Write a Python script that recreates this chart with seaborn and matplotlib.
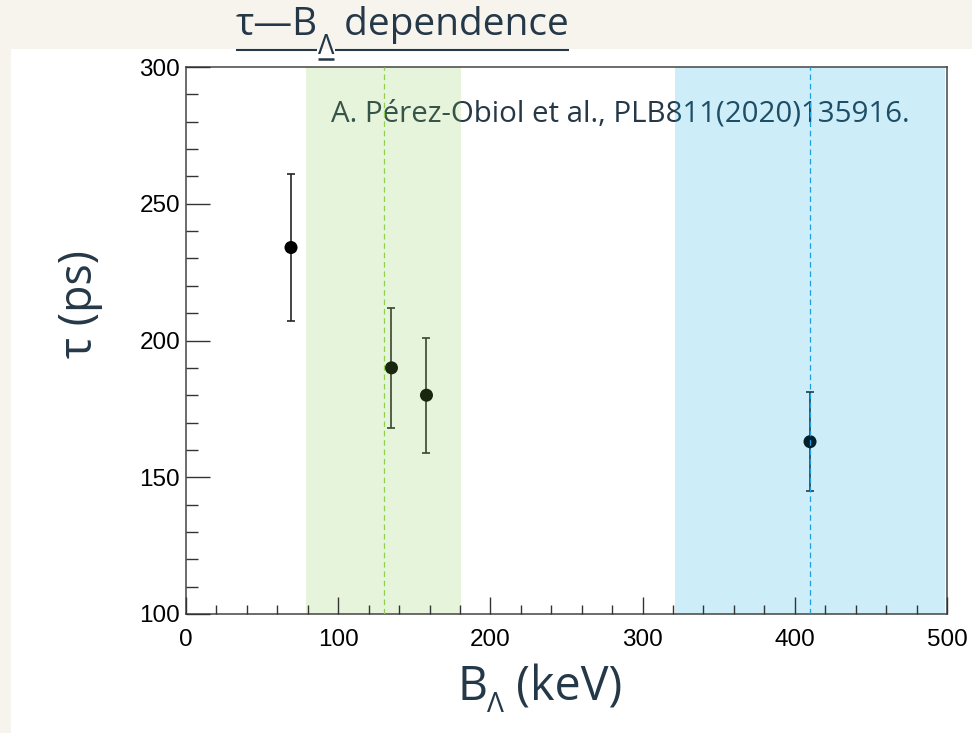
import matplotlib
matplotlib.use("Agg")
import matplotlib.pyplot as plt
from matplotlib.patches import Rectangle
from matplotlib.lines import Line2D
from matplotlib.ticker import MultipleLocator
import seaborn as sns
import pandas as pd

# Measured hypertriton-like lifetimes versus Lambda separation energy
b_lambda = [69, 135, 158, 410]          # keV
tau = [234, 190, 180, 163]              # ps
tau_err = [27, 22, 21, 18]              # ps

# Theory bands: centre and half-width (keV)
band_centres = [130, 410]
band_halfwidths = [51, 89]

x_ticks = [0, 100, 200, 300, 400, 500]
y_ticks = [100, 150, 200, 250, 300]

title_runs = ["τ—B", "Λ", " dependence"]
xlabel_runs = ["B", "Λ", " (keV)"]
ylabel_text = "τ (ps)"
reference_text = "A. Pérez-Obiol et al., PLB811(2020)135916."

df = pd.DataFrame({"B": b_lambda, "tau": tau, "err": tau_err})

sns.set_theme(style="ticks")
SANS = ["Open Sans", "DejaVu Sans"]
TICKFONT = ["Liberation Sans", "DejaVu Sans"]
plt.rcParams["font.family"] = SANS

W, H = 972, 733
NAVY = "#253848"
fig = plt.figure(figsize=(W / 100, H / 100), dpi=100)
fig.patch.set_facecolor("#f7f4ee")
fig.patches.append(Rectangle((11 / W, 0), 1 - 11 / W, 1 - 49 / H,
                             transform=fig.transFigure, facecolor="white",
                             edgecolor="none", zorder=-5))

ax = fig.add_axes([186 / W, 1 - 614 / H, (947 - 186) / W, (614 - 67) / H])
ax.set_facecolor("white")
ax.set_axisbelow(False)

# data points with error bars
ax.errorbar(df["B"], df["tau"], yerr=df["err"], fmt="none", ecolor="#262626",
            elinewidth=1.2, capsize=2.6, capthick=1.2, zorder=2)
sns.scatterplot(data=df, x="B", y="tau", ax=ax, color="black", s=88,
                edgecolor="none", linewidth=0, zorder=2.05, legend=False)

# theory bands drawn translucent over the points
band_colors = ["#82c850", "#05aae1"]
line_colors = ["#8fd14f", "#1ea0e0"]
for c, hw, bc, lc in zip(band_centres, band_halfwidths, band_colors, line_colors):
    ax.axvspan(c - hw, c + hw, color=bc, alpha=0.2, lw=0, zorder=2.3)
    ax.axvline(c, color=lc, lw=0.9, ls=(0, (4.5, 3)), zorder=2.6)

ax.set_xlim(x_ticks[0], x_ticks[-1])
ax.set_ylim(y_ticks[0], y_ticks[-1])
ax.set_xticks(x_ticks)
ax.set_yticks(y_ticks)
ax.xaxis.set_minor_locator(MultipleLocator(20))
ax.yaxis.set_minor_locator(MultipleLocator(10))
ax.set_xlabel("")
ax.set_ylabel("")
ax.tick_params(axis="both", which="both", direction="in", color="#333333",
               width=1.0, top=False, right=False, labelcolor="black")
ax.tick_params(axis="x", which="major", length=12, pad=10.5)
ax.tick_params(axis="x", which="minor", length=6.5)
ax.tick_params(axis="y", which="major", length=17, pad=4.3)
ax.tick_params(axis="y", which="minor", length=8.6)
for lab in ax.get_xticklabels() + ax.get_yticklabels():
    lab.set_fontfamily(TICKFONT)
    lab.set_fontsize(17.5)
for s in ax.spines.values():
    s.set_visible(True)
    s.set_color("#444444")
    s.set_linewidth(1.1)

renderer = fig.canvas.get_renderer()


def width_of(text, size, family=SANS):
    t = fig.text(0, 0, text, fontsize=size, family=family)
    w = t.get_window_extent(renderer).width
    t.remove()
    return w


def runs_width(runs, size, sub_ratio):
    return sum(width_of(r, size * (sub_ratio if i == 1 else 1.0))
               for i, r in enumerate(runs))


def fit_runs(runs, sub_ratio, target_px):
    trial = 20.0
    return trial * target_px / runs_width(runs, trial, sub_ratio)


def draw_runs(runs, x_px, base_px, size, sub_ratio, sub_drop_px):
    spans = []
    x = x_px
    for i, r in enumerate(runs):
        sub = i == 1
        fs = size * (sub_ratio if sub else 1.0)
        y = base_px + (sub_drop_px if sub else 0)
        t = fig.text(x / W, 1 - y / H, r, fontsize=fs, color=NAVY,
                     ha="left", va="baseline", family=SANS)
        w = t.get_window_extent(renderer).width
        spans.append((x, x + w))
        x += w
    return spans


def hline_px(x0, x1, y, lw):
    fig.add_artist(Line2D([x0 / W, x1 / W], [1 - y / H, 1 - y / H],
                          transform=fig.transFigure, color=NAVY, lw=lw,
                          solid_capstyle="butt"))


# underlined title, centred over its slot
title_size = 28
tw = runs_width(title_runs, title_size, 0.7)
tx = (197 + 608) / 2 - tw / 2
spans = draw_runs(title_runs, tx, 35, title_size, 0.7, 19)
hline_px(spans[0][0], spans[0][1] - 1, 50, 1.5)
hline_px(spans[1][0], spans[1][1], 59, 1.8)
hline_px(spans[2][0] + 1, spans[2][1], 50, 1.5)

# x-axis label
xs = fit_runs(xlabel_runs, 0.6, 165)
draw_runs(xlabel_runs, 457, 700, xs, 0.6, 12)

# y-axis label
ys = 20.0 * 108 / width_of(ylabel_text, 20.0)
fig.text(80 / W, 1 - 304 / H, ylabel_text, fontsize=ys, color=NAVY,
         rotation=90, ha="center", va="center", family=SANS)

# literature reference, placed under the translucent bands
rs = 20.0 * 579 / width_of(reference_text, 20.0)
ax.text(331 / W, 1 - 122 / H, reference_text, transform=fig.transFigure,
        fontsize=rs, color=NAVY, ha="left", va="baseline", zorder=2.1,
        family=SANS)

fig.savefig("out.png", dpi=100, facecolor=fig.get_facecolor())
